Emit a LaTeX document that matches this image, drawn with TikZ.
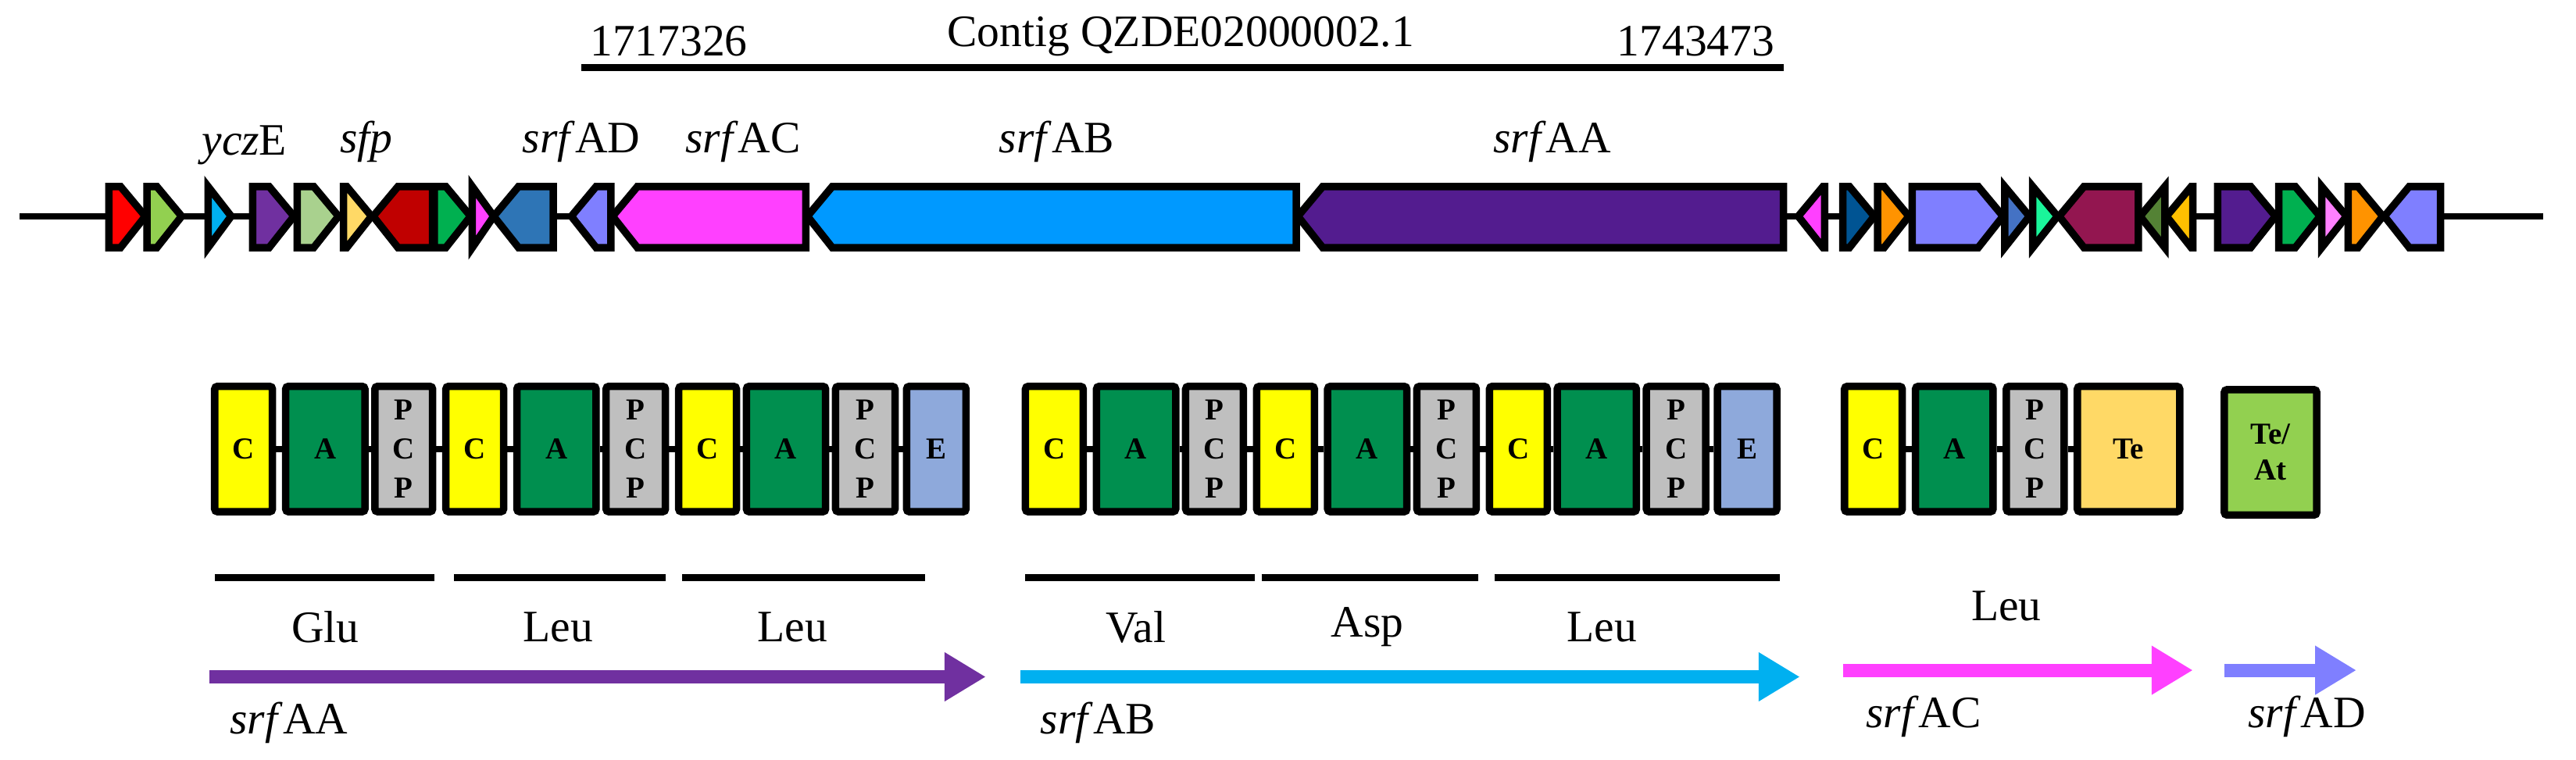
\documentclass[tikz,border=0pt]{standalone}
\usepackage{fontspec}
\usetikzlibrary{arrows.meta}
\setmainfont{Liberation Serif}
\begin{document}
\begin{tikzpicture}[x=0.02cm,y=-0.02cm,
  gene/.style={draw=black,line width=0.09cm,line join=miter},
  dom/.style={draw=black,line width=0.09cm,rounded corners=1pt,minimum height=1.52cm,inner sep=0pt,font=\fontsize{10.5}{10.5}\selectfont\bfseries,align=center},
  lbl/.style={font=\fontsize{15.5}{18}\selectfont},
  big/.style={-{Triangle[length=0.5cm,width=0.56cm]},line width=0.16cm}]
\useasboundingbox (0,0) rectangle (1560,460);
\definecolor{cY}{HTML}{FFFF00}\definecolor{cA}{HTML}{008F4F}\definecolor{cP}{HTML}{BFBFBF}
\definecolor{cE}{HTML}{8EA9DB}\definecolor{cTe}{HTML}{FFD966}\definecolor{cTA}{HTML}{92D050}
\definecolor{gRed}{HTML}{FF0000}\definecolor{gCy}{HTML}{00B0F0}\definecolor{gPu}{HTML}{7030A0}
\definecolor{gLg}{HTML}{A9D18E}\definecolor{gDr}{HTML}{C00000}\definecolor{gGr}{HTML}{00B050}
\definecolor{gMa}{HTML}{FF40FF}\definecolor{gSb}{HTML}{2E75B6}\definecolor{gPw}{HTML}{7F7FFF}
\definecolor{gAB}{HTML}{0099FF}\definecolor{gAA}{HTML}{531C8F}\definecolor{gDb}{HTML}{005493}
\definecolor{gOr}{HTML}{FF9300}\definecolor{gBl}{HTML}{4472C4}\definecolor{gAq}{HTML}{1AF59A}
\definecolor{gMr}{HTML}{931650}\definecolor{gOl}{HTML}{548235}\definecolor{gGo}{HTML}{FFC000}
\definecolor{gPk}{HTML}{FF80FF}
% top contig
\node[lbl] (c1) at (405,25) {1717326};
\node[lbl] (c2) at (715,22) {Contig QZDE02000002.1};
\node[lbl] (c3) at (1027,25) {1743473};
\coordinate (tl) at (352,41); \coordinate (tr) at (1080,41);
\draw[line width=0.08cm] (tl) -- (tr);
% gene labels
\node[lbl] (l1) at (148,88) {\textit{ycz}E};
\node[lbl] (l2) at (222,86) {\textit{sfp}};
\node[lbl] (l3) at (352,86) {\textit{srf}AD};
\node[lbl] (l4) at (450,86) {\textit{srf}AC};
\node[lbl] (l5) at (640,86) {\textit{srf}AB};
\node[lbl] (l6) at (940,86) {\textit{srf}AA};
% backbone
\coordinate (bl) at (12,131); \coordinate (br) at (1540,131);
\draw[line width=0.08cm] (bl) -- (br);
\newcommand\gR[3]{\draw[gene,fill=#3] (#1,113) -- ({max(#1,#2-15)},113) -- (#2,131) -- ({max(#1,#2-15)},150) -- (#1,150) -- cycle;}
\newcommand\gL[3]{\draw[gene,fill=#3] (#2,113) -- ({min(#2,#1+15)},113) -- (#1,131) -- ({min(#2,#1+15)},150) -- (#2,150) -- cycle;}
\gR{66}{88}{gRed}
\gR{89}{110}{cTA}
\gR{126}{140}{gCy}
\gR{153}{178}{gPu}
\gR{180}{205}{gLg}
\gR{208}{225}{cTe}
\gL{226}{262}{gDr}
\gR{263}{285}{gGr}
\gR{286}{299}{gMa}
\gL{299}{335}{gSb}
\gL{346}{370}{gPw}
\gL{371}{488}{gMa}
\gL{489}{785}{gAB}
\gL{786}{1080}{gAA}
\gL{1089}{1105}{gMa}
\gR{1116}{1135}{gDb}
\gR{1137}{1156}{gOr}
\gR{1158}{1213}{gPw}
\gR{1214}{1229}{gBl}
\gR{1231}{1246}{gAq}
\gL{1247}{1295}{gMr}
\gL{1296}{1311}{gOl}
\gL{1312}{1328}{gGo}
\gR{1343}{1378}{gAA}
\gR{1380}{1405}{gGr}
\gR{1406}{1421}{gPk}
\gR{1422}{1443}{gOr}
\gL{1444}{1478}{gPw}
% domains
\newcommand\dbox[5]{\node[dom,fill=#4,minimum width={((#3)-(#2))*0.02cm}] (#1) at ({((#2)+(#3))/2},272) {#5};}
\newcommand\pcp{P\\[3pt]C\\[3pt]P}
\foreach \o/\g in {0/a,491/b}{
\dbox{\g1}{130+\o}{165+\o}{cY}{C}
\dbox{\g2}{173+\o}{221+\o}{cA}{A}
\dbox{\g3}{227+\o}{262+\o}{cP}{\pcp}
\dbox{\g4}{270+\o}{305+\o}{cY}{C}
\dbox{\g5}{313+\o}{361+\o}{cA}{A}
\dbox{\g6}{367+\o}{403+\o}{cP}{\pcp}
\dbox{\g7}{411+\o}{446+\o}{cY}{C}
\dbox{\g8}{452+\o}{500+\o}{cA}{A}
\dbox{\g9}{506+\o}{542+\o}{cP}{\pcp}
\dbox{\g10}{549+\o}{585+\o}{cE}{E}
\foreach \i [evaluate=\i as \j using int(\i+1)] in {1,...,9} \draw[line width=0.08cm] (\g\i) -- (\g\j);
}
\dbox{c1}{1117}{1152}{cY}{C}
\dbox{c2}{1160}{1207}{cA}{A}
\dbox{c3}{1215}{1250}{cP}{\pcp}
\dbox{c4}{1258}{1320}{cTe}{Te}
\draw[line width=0.08cm] (c1)--(c2) (c2)--(c3) (c3)--(c4);
\node[dom,fill=cTA,minimum width=1.12cm] (d1) at (1375,274) {Te/\\[2pt]At};
% underlines
\foreach \a/\b in {130/263,275/403,413/560,621/760,764/895,905/1078}
  \draw[line width=0.08cm] (\a,350) -- (\b,350);
\node[lbl] (m1) at (197,380) {Glu};
\node[lbl] (m2) at (338,380) {Leu};
\node[lbl] (m3) at (480,380) {Leu};
\node[lbl] (m4) at (688,380) {Val};
\node[lbl] (m5) at (828,380) {Asp};
\node[lbl] (m6) at (970,380) {Leu};
\node[lbl] (m7) at (1215,367) {Leu};
% bottom arrows
\coordinate (a1) at (127,410); \coordinate (a2) at (597,410);
\coordinate (b1) at (618,410); \coordinate (b2) at (1090,410);
\coordinate (e1) at (1116,406); \coordinate (e2) at (1328,406);
\coordinate (f1) at (1347,406); \coordinate (f2) at (1427,406);
\draw[big,color=gPu] (a1) -- (a2);
\draw[big,color=gCy] (b1) -- (b2);
\draw[big,color=gMa] (e1) -- (e2);
\draw[big,color=gPw] (f1) -- (f2);
\node[lbl] (s1) at (175,438) {\textit{srf}AA};
\node[lbl] (s2) at (665,438) {\textit{srf}AB};
\node[lbl] (s3) at (1165,434) {\textit{srf}AC};
\node[lbl] (s4) at (1397,434) {\textit{srf}AD};
\end{tikzpicture}
\end{document}
